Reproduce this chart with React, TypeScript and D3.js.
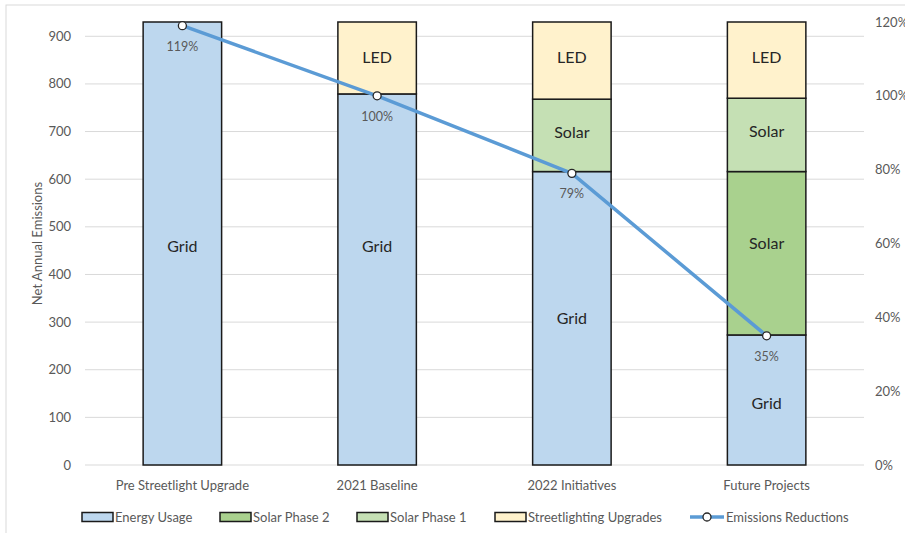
import React from "react";
import * as d3 from "d3";

// Chart data
const categories = ["Pre Streetlight Upgrade", "2021 Baseline", "2022 Initiatives", "Future Projects"];
const gridUsage = [930, 779, 616, 273];
const solarPhase2 = [0, 0, 0, 343];
const solarPhase1 = [0, 0, 152, 154];
const streetlighting = [0, 151, 162, 160];
const reductions = [119, 100, 79, 35];

const leftTicks = [0, 100, 200, 300, 400, 500, 600, 700, 800, 900];
const rightTicks = [0, 20, 40, 60, 80, 100, 120];

const seriesNames = ["Energy Usage", "Solar Phase 2", "Solar Phase 1", "Streetlighting Upgrades"];
const segmentLabels = ["Grid", "Solar", "Solar", "LED"];
const colors = ["#BDD7EE", "#A9D18E", "#C5E0B4", "#FFF2CC"];
const lineName = "Emissions Reductions";

const W = 905;
const H = 533;
const FONT = "Lato, 'Open Sans', sans-serif";

// hand-placed segment label nudges (px), keyed by "categoryIndex-seriesIndex"
const labelNudge: Record<string, number> = {
  "0-0": 3,
  "1-0": -33,
  "2-0": 0,
  "3-0": 3,
  "3-1": -10,
  "2-2": -3,
  "3-2": -3,
  "1-3": -1,
  "2-3": -3,
  "3-3": -3,
};

export default function App() {
  const plot = { left: 85, right: 864, top: 22, bottom: 465 };

  const x = d3.scaleBand<string>().domain(categories).range([plot.left, plot.right]).padding(0);
  const barW = x.bandwidth() * 0.403;
  const yL = d3.scaleLinear().domain([0, 930]).range([plot.bottom, plot.top]);
  const yR = d3.scaleLinear().domain([0, 120]).range([plot.bottom, plot.top]);

  const table = categories.map((c, i) => ({
    cat: c,
    s0: gridUsage[i],
    s1: solarPhase2[i],
    s2: solarPhase1[i],
    s3: streetlighting[i],
  }));
  const stacked = d3.stack<any>().keys(["s0", "s1", "s2", "s3"])(table);

  const cx = (c: string) => (x(c) as number) + x.bandwidth() / 2;

  const line = d3
    .line<number>()
    .x((_, i) => cx(categories[i]))
    .y((d) => yR(d));

  // legend layout
  const legendY = 517;
  const legendItems = [
    { x: 82, name: seriesNames[0], color: colors[0] },
    { x: 220, name: seriesNames[1], color: colors[1] },
    { x: 357, name: seriesNames[2], color: colors[2] },
    { x: 495, name: seriesNames[3], color: colors[3] },
  ];

  return (
    <svg
      width={W}
      height={H}
      style={{ position: "absolute", left: 0, top: 0, background: "#fff" }}
      fontFamily={FONT}
    >
      <rect x={6} y={5} width={W + 10} height={H + 10} fill="#fff" stroke="#D9D9D9" strokeWidth={1} />

      {/* gridlines */}
      {leftTicks.map((t) => (
        <line key={t} x1={plot.left} x2={plot.right} y1={yL(t)} y2={yL(t)} stroke="#D9D9D9" strokeWidth={1} />
      ))}

      {/* left axis labels */}
      {leftTicks.map((t) => (
        <text key={t} x={71} y={yL(t)} dy="0.35em" textAnchor="end" fontSize={13} fill="#595959">
          {t}
        </text>
      ))}

      {/* right axis labels */}
      {rightTicks.map((t) => (
        <text key={t} x={875} y={yR(t)} dy="0.35em" textAnchor="start" fontSize={13} fill="#595959">
          {t}%
        </text>
      ))}

      <text
        transform={`translate(37,${(plot.top + plot.bottom) / 2}) rotate(-90)`}
        textAnchor="middle"
        dy="0.35em"
        fontSize={13}
        fill="#595959"
      >
        Net Annual Emissions
      </text>

      {/* stacked bars */}
      {stacked.map((layer, li) =>
        layer.map((d, i) => {
          const v = d[1] - d[0];
          if (v <= 0) return null;
          const bx = cx(categories[i]) - barW / 2;
          const y0 = yL(d[1]);
          const y1 = yL(d[0]);
          const nudge = labelNudge[`${i}-${li}`] || 0;
          return (
            <g key={`${li}-${i}`}>
              <rect x={bx} y={y0} width={barW} height={y1 - y0} fill={colors[li]} stroke="#1a1a1a" strokeWidth={1.5} />
              <text
                x={cx(categories[i])}
                y={(y0 + y1) / 2 + nudge}
                dy="0.35em"
                textAnchor="middle"
                fontSize={16}
                fill="#262626"
              >
                {segmentLabels[li]}
              </text>
            </g>
          );
        })
      )}

      {/* category labels */}
      {categories.map((c) => (
        <text key={c} x={cx(c)} y={485} dy="0.35em" textAnchor="middle" fontSize={13} fill="#595959">
          {c}
        </text>
      ))}

      {/* emissions reductions line */}
      <path d={line(reductions) || ""} fill="none" stroke="#5B9BD5" strokeWidth={3.5} strokeLinejoin="round" />
      {reductions.map((r, i) => (
        <g key={i}>
          <circle cx={cx(categories[i])} cy={yR(r)} r={4} fill="#fff" stroke="#262626" strokeWidth={1.3} />
          <text x={cx(categories[i])} y={yR(r) + 20.5} dy="0.35em" textAnchor="middle" fontSize={12.5} fill="#595959">
            {r}%
          </text>
        </g>
      ))}

      {/* legend */}
      {legendItems.map((it) => (
        <g key={it.name}>
          <rect x={it.x} y={legendY - 4.5} width={31} height={9} fill={it.color} stroke="#1a1a1a" strokeWidth={1.5} />
          <text x={it.x + 33} y={legendY} dy="0.35em" fontSize={13} fill="#595959">
            {it.name}
          </text>
        </g>
      ))}
      <line x1={690} x2={724} y1={legendY} y2={legendY} stroke="#5B9BD5" strokeWidth={3.5} />
      <circle cx={707} cy={legendY} r={4} fill="#fff" stroke="#262626" strokeWidth={1.3} />
      <text x={726} y={legendY} dy="0.35em" fontSize={13} fill="#595959">
        {lineName}
      </text>
    </svg>
  );
}
